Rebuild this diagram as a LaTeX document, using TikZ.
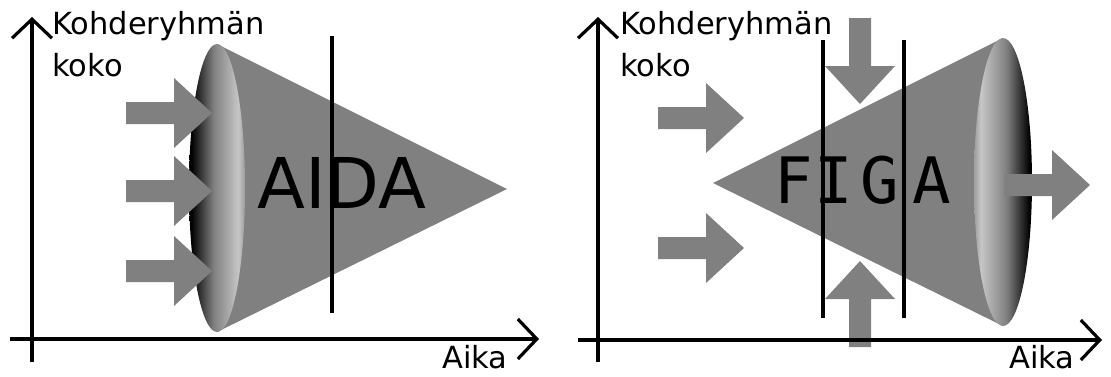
\documentclass[tikz,border=0pt]{standalone}
\usepackage{fontspec}
\setmainfont{DejaVu Sans}
\newfontfamily\monofam{DejaVu Sans Mono}
\usetikzlibrary{arrows.meta}

\definecolor{bodygray}{HTML}{808080}
\definecolor{rimlight}{HTML}{C6C6C6}
\definecolor{rimedge}{HTML}{A2A2A2}

% rim shadings of the two cone bases (dark side facing away from the light)
\pgfdeclarehorizontalshading{leftrim}{100bp}{color(0bp)=(black); color(27bp)=(black); color(47bp)=(bodygray); color(69bp)=(rimlight); color(74bp)=(rimedge); color(100bp)=(rimedge)}
\pgfdeclarehorizontalshading{rightrim}{100bp}{color(0bp)=(rimedge); color(26bp)=(rimedge); color(31bp)=(rimlight); color(53bp)=(bodygray); color(73bp)=(black); color(100bp)=(black)}

\begin{document}
\begin{tikzpicture}[x=1pt,y=-1pt,
  axis/.style={line width=3.2pt,line join=miter,
    -{Straight Barb[length=19pt,width=40pt]}},
  divider/.style={line width=3.2pt},
  labeltext/.style={inner sep=0pt,font=\fontsize{30.5}{42}\selectfont},
  bigword/.style={inner sep=0pt,font=\fontsize{70}{80}\selectfont},
  blockarrow/.pic={\fill[bodygray] (0,-11) -- (48,-11) -- (48,-35) -- (86,0)
      -- (48,35) -- (48,11) -- (0,11) -- cycle;}]
\useasboundingbox (0,0) rectangle (1111,376);

% ---------------- AIDA ----------------
\fill[bodygray] (217,44) -- (507,189) -- (217,332) -- cycle;
\shade[shading=leftrim] (217,188) ellipse [x radius=28, y radius=144];
\pic at (126,113) {blockarrow};
\pic at (126,191) {blockarrow};
\pic at (126,271) {blockarrow};
\node[bigword,anchor=base west] (aida) at (257,208) {AIDA};
\draw[divider] (332,36) -- (332,313);

\coordinate (ly0) at (32,362);
\coordinate (ly1) at (32,17);
\coordinate (lx0) at (10,339);
\coordinate (lx1) at (539,339);
\draw[axis] (ly0) -- (ly1);
\draw[axis] (lx0) -- (lx1);
\node[labeltext,anchor=north west,align=left] (lylab) at (52,11) {Kohderyhmän\\koko};
\node[labeltext,anchor=base west] (lxlab) at (442,368) {Aika};

% ---------------- FIGA ----------------
\fill[bodygray] (713,183) -- (1003,38) -- (1003,326) -- cycle;
\shade[shading=rightrim] (1003,182) ellipse [x radius=29, y radius=144];
\pic at (658,118) {blockarrow};
\pic at (658,248) {blockarrow};
\pic[rotate=-90] at (860,18) {blockarrow};
\pic[rotate=90] at (860,347) {blockarrow};
\pic at (1004,185) {blockarrow};
\node[bigword,anchor=base west,font=\fontsize{64}{80}\monofam] (figa) at (774,203)
  {F\kern2pt I\kern7pt G\kern14pt A};
\draw[divider] (823,40) -- (823,318);
\draw[divider] (904,40) -- (904,318);

\coordinate (ry0) at (598,362);
\coordinate (ry1) at (598,17);
\coordinate (rx0) at (578,340);
\coordinate (rx1) at (1102,340);
\draw[axis] (ry0) -- (ry1);
\draw[axis] (rx0) -- (rx1);
\node[labeltext,anchor=north west,align=left] (rylab) at (620,11) {Kohderyhmän\\koko};
\node[labeltext,anchor=base west] (rxlab) at (1009,368) {Aika};
\end{tikzpicture}
\end{document}
